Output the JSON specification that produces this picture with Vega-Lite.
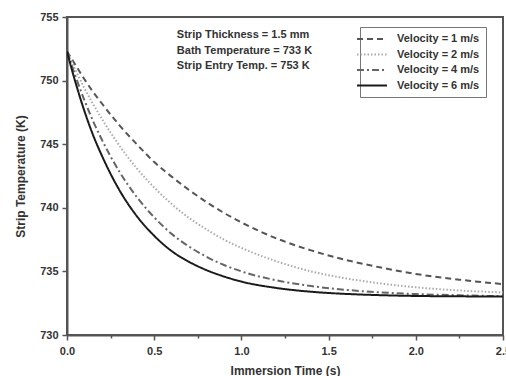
{
  "$schema": "https://vega.github.io/schema/vega-lite/v6.json",
  "width": 436,
  "height": 318,
  "autosize": {"type": "none"},
  "padding": {"left": 67, "top": 17, "right": 3, "bottom": 41},
  "background": "white",
  "config": {
    "font": "Liberation Sans",
    "view": {"stroke": "#555", "strokeWidth": 2},
    "axis": {
      "domainColor": "#555",
      "domainWidth": 2,
      "tickColor": "#555",
      "tickWidth": 1.5,
      "labelFont": "Liberation Sans",
      "labelFontWeight": "bold",
      "labelFontSize": 11,
      "labelColor": "#333",
      "titleFont": "Liberation Sans",
      "titleFontWeight": "bold",
      "titleFontSize": 12,
      "titleColor": "#333",
      "grid": false
    }
  },
  "datasets": {
    "curves": [
      {"t": 0, "T": 752.3, "v": "Velocity = 1 m/s"},
      {"t": 0.05, "T": 751.2, "v": "Velocity = 1 m/s"},
      {"t": 0.1, "T": 750.1, "v": "Velocity = 1 m/s"},
      {"t": 0.15, "T": 749.1, "v": "Velocity = 1 m/s"},
      {"t": 0.2, "T": 748.2, "v": "Velocity = 1 m/s"},
      {"t": 0.3, "T": 746.5, "v": "Velocity = 1 m/s"},
      {"t": 0.4, "T": 745.0, "v": "Velocity = 1 m/s"},
      {"t": 0.5, "T": 743.6, "v": "Velocity = 1 m/s"},
      {"t": 0.6, "T": 742.45, "v": "Velocity = 1 m/s"},
      {"t": 0.7, "T": 741.4, "v": "Velocity = 1 m/s"},
      {"t": 0.8, "T": 740.45, "v": "Velocity = 1 m/s"},
      {"t": 0.9, "T": 739.6, "v": "Velocity = 1 m/s"},
      {"t": 1.0, "T": 738.85, "v": "Velocity = 1 m/s"},
      {"t": 1.2, "T": 737.6, "v": "Velocity = 1 m/s"},
      {"t": 1.4, "T": 736.65, "v": "Velocity = 1 m/s"},
      {"t": 1.6, "T": 735.9, "v": "Velocity = 1 m/s"},
      {"t": 1.8, "T": 735.3, "v": "Velocity = 1 m/s"},
      {"t": 2.0, "T": 734.8, "v": "Velocity = 1 m/s"},
      {"t": 2.25, "T": 734.35, "v": "Velocity = 1 m/s"},
      {"t": 2.5, "T": 734.0, "v": "Velocity = 1 m/s"},
      {"t": 0, "T": 752.3, "v": "Velocity = 2 m/s"},
      {"t": 0.05, "T": 750.8, "v": "Velocity = 2 m/s"},
      {"t": 0.1, "T": 749.4, "v": "Velocity = 2 m/s"},
      {"t": 0.15, "T": 748.15, "v": "Velocity = 2 m/s"},
      {"t": 0.2, "T": 747.0, "v": "Velocity = 2 m/s"},
      {"t": 0.3, "T": 744.9, "v": "Velocity = 2 m/s"},
      {"t": 0.4, "T": 743.1, "v": "Velocity = 2 m/s"},
      {"t": 0.5, "T": 741.6, "v": "Velocity = 2 m/s"},
      {"t": 0.6, "T": 740.3, "v": "Velocity = 2 m/s"},
      {"t": 0.7, "T": 739.2, "v": "Velocity = 2 m/s"},
      {"t": 0.8, "T": 738.3, "v": "Velocity = 2 m/s"},
      {"t": 0.9, "T": 737.5, "v": "Velocity = 2 m/s"},
      {"t": 1.0, "T": 736.85, "v": "Velocity = 2 m/s"},
      {"t": 1.2, "T": 735.8, "v": "Velocity = 2 m/s"},
      {"t": 1.4, "T": 735.0, "v": "Velocity = 2 m/s"},
      {"t": 1.6, "T": 734.45, "v": "Velocity = 2 m/s"},
      {"t": 1.8, "T": 734.05, "v": "Velocity = 2 m/s"},
      {"t": 2.0, "T": 733.75, "v": "Velocity = 2 m/s"},
      {"t": 2.25, "T": 733.5, "v": "Velocity = 2 m/s"},
      {"t": 2.5, "T": 733.35, "v": "Velocity = 2 m/s"},
      {"t": 0, "T": 752.3, "v": "Velocity = 4 m/s"},
      {"t": 0.025, "T": 751.3, "v": "Velocity = 4 m/s"},
      {"t": 0.05, "T": 750.3, "v": "Velocity = 4 m/s"},
      {"t": 0.1, "T": 748.45, "v": "Velocity = 4 m/s"},
      {"t": 0.15, "T": 746.8, "v": "Velocity = 4 m/s"},
      {"t": 0.2, "T": 745.35, "v": "Velocity = 4 m/s"},
      {"t": 0.3, "T": 742.85, "v": "Velocity = 4 m/s"},
      {"t": 0.4, "T": 740.85, "v": "Velocity = 4 m/s"},
      {"t": 0.5, "T": 739.25, "v": "Velocity = 4 m/s"},
      {"t": 0.6, "T": 737.95, "v": "Velocity = 4 m/s"},
      {"t": 0.7, "T": 736.95, "v": "Velocity = 4 m/s"},
      {"t": 0.8, "T": 736.15, "v": "Velocity = 4 m/s"},
      {"t": 0.9, "T": 735.5, "v": "Velocity = 4 m/s"},
      {"t": 1.0, "T": 735.0, "v": "Velocity = 4 m/s"},
      {"t": 1.2, "T": 734.3, "v": "Velocity = 4 m/s"},
      {"t": 1.4, "T": 733.85, "v": "Velocity = 4 m/s"},
      {"t": 1.6, "T": 733.55, "v": "Velocity = 4 m/s"},
      {"t": 1.8, "T": 733.35, "v": "Velocity = 4 m/s"},
      {"t": 2.0, "T": 733.22, "v": "Velocity = 4 m/s"},
      {"t": 2.25, "T": 733.12, "v": "Velocity = 4 m/s"},
      {"t": 2.5, "T": 733.05, "v": "Velocity = 4 m/s"},
      {"t": 0, "T": 752.3, "v": "Velocity = 6 m/s"},
      {"t": 0.025, "T": 751.0, "v": "Velocity = 6 m/s"},
      {"t": 0.05, "T": 749.8, "v": "Velocity = 6 m/s"},
      {"t": 0.1, "T": 747.6, "v": "Velocity = 6 m/s"},
      {"t": 0.15, "T": 745.7, "v": "Velocity = 6 m/s"},
      {"t": 0.2, "T": 744.1, "v": "Velocity = 6 m/s"},
      {"t": 0.3, "T": 741.4, "v": "Velocity = 6 m/s"},
      {"t": 0.4, "T": 739.35, "v": "Velocity = 6 m/s"},
      {"t": 0.5, "T": 737.8, "v": "Velocity = 6 m/s"},
      {"t": 0.6, "T": 736.6, "v": "Velocity = 6 m/s"},
      {"t": 0.7, "T": 735.75, "v": "Velocity = 6 m/s"},
      {"t": 0.8, "T": 735.1, "v": "Velocity = 6 m/s"},
      {"t": 0.9, "T": 734.6, "v": "Velocity = 6 m/s"},
      {"t": 1.0, "T": 734.2, "v": "Velocity = 6 m/s"},
      {"t": 1.2, "T": 733.7, "v": "Velocity = 6 m/s"},
      {"t": 1.4, "T": 733.4, "v": "Velocity = 6 m/s"},
      {"t": 1.6, "T": 733.23, "v": "Velocity = 6 m/s"},
      {"t": 1.8, "T": 733.13, "v": "Velocity = 6 m/s"},
      {"t": 2.0, "T": 733.07, "v": "Velocity = 6 m/s"},
      {"t": 2.25, "T": 733.04, "v": "Velocity = 6 m/s"},
      {"t": 2.5, "T": 733.02, "v": "Velocity = 6 m/s"}
    ],
    "notes": [
      {"t": 0.63, "T": 753.6, "label": "Strip Thickness = 1.5 mm"},
      {"t": 0.63, "T": 752.36, "label": "Bath Temperature = 733 K"},
      {"t": 0.63, "T": 751.12, "label": "Strip Entry Temp. = 753 K"}
    ]
  },
  "layer": [
    {
      "data": {"name": "curves"},
      "mark": {"type": "line", "interpolate": "monotone", "clip": true},
      "encoding": {
        "x": {
          "field": "t", "type": "quantitative",
          "scale": {"domain": [0, 2.5], "nice": false},
          "axis": {
            "title": "Immersion Time (s)",
            "values": [0, 0.25, 0.5, 0.75, 1, 1.25, 1.5, 1.75, 2, 2.25, 2.5],
            "labelExpr": "(datum.value * 2) % 1 == 0 ? format(datum.value, '.1f') : ''",
            "tickSize": {"condition": {"test": "(datum.value * 2) % 1 == 0", "value": 5}, "value": 3},
            "labelPadding": 5,
            "titlePadding": 9,
            "labelFlush": false
          }
        },
        "y": {
          "field": "T", "type": "quantitative",
          "scale": {"domain": [730, 755], "nice": false, "zero": false},
          "axis": {
            "title": "Strip Temperature (K)",
            "values": [730, 732.5, 735, 737.5, 740, 742.5, 745, 747.5, 750, 752.5, 755],
            "labelExpr": "datum.value % 5 == 0 ? format(datum.value, 'd') : ''",
            "tickSize": {"condition": {"test": "datum.value % 5 == 0", "value": 5}, "value": 3},
            "labelPadding": 4,
            "titlePadding": 12
          }
        },
        "strokeDash": {
          "field": "v", "type": "nominal",
          "scale": {
            "domain": ["Velocity = 1 m/s", "Velocity = 2 m/s", "Velocity = 4 m/s", "Velocity = 6 m/s"],
            "range": [[6, 4], [1.5, 2], [7, 3, 2, 3], [1, 0]]
          },
          "legend": {
            "title": null,
            "orient": "none",
            "legendX": 293,
            "legendY": 10,
            "symbolType": "M-3,0H3",
            "symbolSize": 100,
            "symbolStrokeWidth": 2,
            "labelFont": "Liberation Sans",
            "labelFontWeight": "bold",
            "labelFontSize": 11,
            "labelColor": "#333",
            "labelOffset": 19,
            "rowPadding": 4.5,
            "strokeColor": "#777",
            "padding": 6,
            "fillColor": "white"
          }
        },
        "color": {
          "field": "v", "type": "nominal",
          "scale": {
            "domain": ["Velocity = 1 m/s", "Velocity = 2 m/s", "Velocity = 4 m/s", "Velocity = 6 m/s"],
            "range": ["#555555", "#aaaaaa", "#666666", "#1a1a1a"]
          },
          "legend": {
            "title": null,
            "orient": "none",
            "legendX": 293,
            "legendY": 10,
            "symbolType": "M-3,0H3",
            "symbolSize": 100,
            "symbolStrokeWidth": 2,
            "labelFont": "Liberation Sans",
            "labelFontWeight": "bold",
            "labelFontSize": 11,
            "labelColor": "#333",
            "labelOffset": 19,
            "rowPadding": 4.5,
            "strokeColor": "#777",
            "padding": 6,
            "fillColor": "white"
          }
        },
        "strokeWidth": {"value": 2}
      }
    },
    {
      "data": {"name": "notes"},
      "mark": {"type": "text", "align": "left", "baseline": "middle", "font": "Liberation Sans", "fontWeight": "bold", "fontSize": 11, "color": "#333"},
      "encoding": {
        "x": {"field": "t", "type": "quantitative"},
        "y": {"field": "T", "type": "quantitative"},
        "text": {"field": "label"}
      }
    }
  ]
}
